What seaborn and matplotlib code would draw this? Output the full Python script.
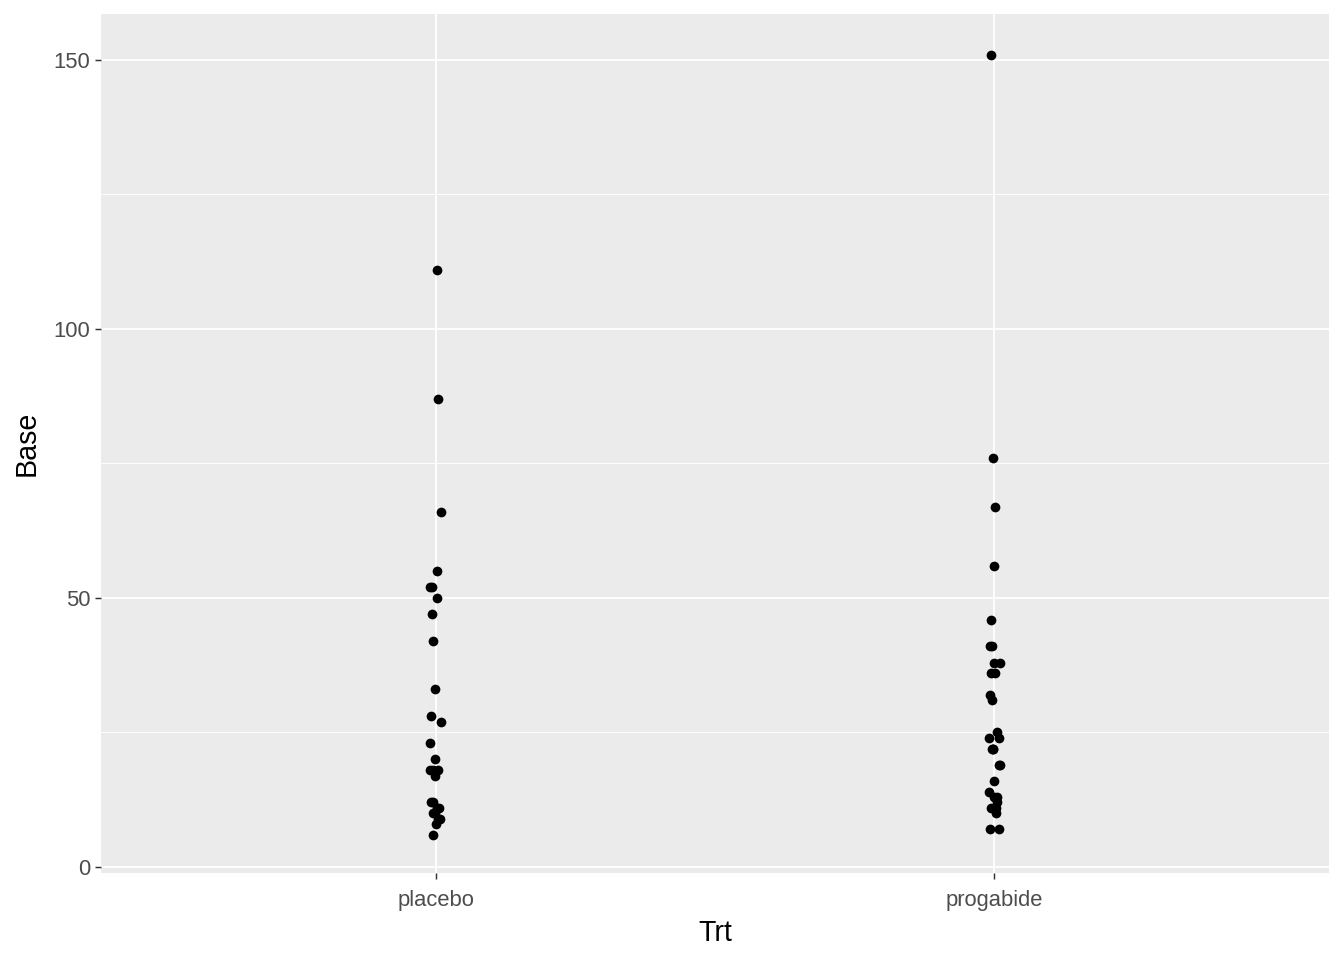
import numpy as np
import pandas as pd
import matplotlib
matplotlib.use("Agg")
import matplotlib.pyplot as plt
import seaborn as sns

placebo_base = [11, 11, 6, 8, 66, 27, 12, 52, 23, 10, 52, 33, 18, 42, 87, 50,
                18, 111, 18, 20, 12, 9, 17, 28, 55, 9, 10, 47]
progabide_base = [76, 38, 19, 10, 19, 24, 31, 14, 11, 67, 41, 7, 22, 13, 46, 36,
                  38, 7, 36, 11, 151, 22, 41, 32, 56, 24, 16, 22, 25, 13, 12]
categories = ["placebo", "progabide"]

df = pd.DataFrame({
    "Trt": ["placebo"] * len(placebo_base) + ["progabide"] * len(progabide_base),
    "Base": placebo_base + progabide_base,
})

sns.set_theme(style="darkgrid")
plt.rcParams["font.family"] = ["Liberation Sans", "DejaVu Sans"]

fig = plt.figure(figsize=(14, 10), dpi=96)
ax = fig.add_axes([101 / 1344, 1 - 873 / 960, (1329 - 101) / 1344, (873 - 14) / 960])
ax.set_facecolor("#EBEBEB")

np.random.seed(3)
sns.stripplot(data=df, x="Trt", y="Base", order=categories, jitter=0.012,
              color="black", size=7.3, linewidth=0, ax=ax, zorder=3)

ax.set_xlim(-0.6, 1.6)
ax.set_ylim(-1.12, 158.55)
ax.set_yticks([0, 50, 100, 150])
ax.set_yticks([25, 75, 125], minor=True)
ax.grid(which="major", color="white", linewidth=1.4)
ax.grid(which="minor", axis="y", color="white", linewidth=0.7)
ax.set_axisbelow(True)
for s in ax.spines.values():
    s.set_visible(False)

ax.tick_params(axis="both", which="major", length=4.5, width=1.1, color="#333333",
               labelcolor="#4D4D4D", labelsize=16.5, pad=3.5, bottom=True, left=True)
ax.tick_params(axis="x", which="major", pad=8)
ax.tick_params(axis="both", which="minor", length=0)
ax.set_xlabel("Trt", fontsize=21.5, color="black", labelpad=6)
ax.set_ylabel("Base", fontsize=21.5, color="black", labelpad=10)

fig.savefig("out.png", dpi=96, facecolor="white")
